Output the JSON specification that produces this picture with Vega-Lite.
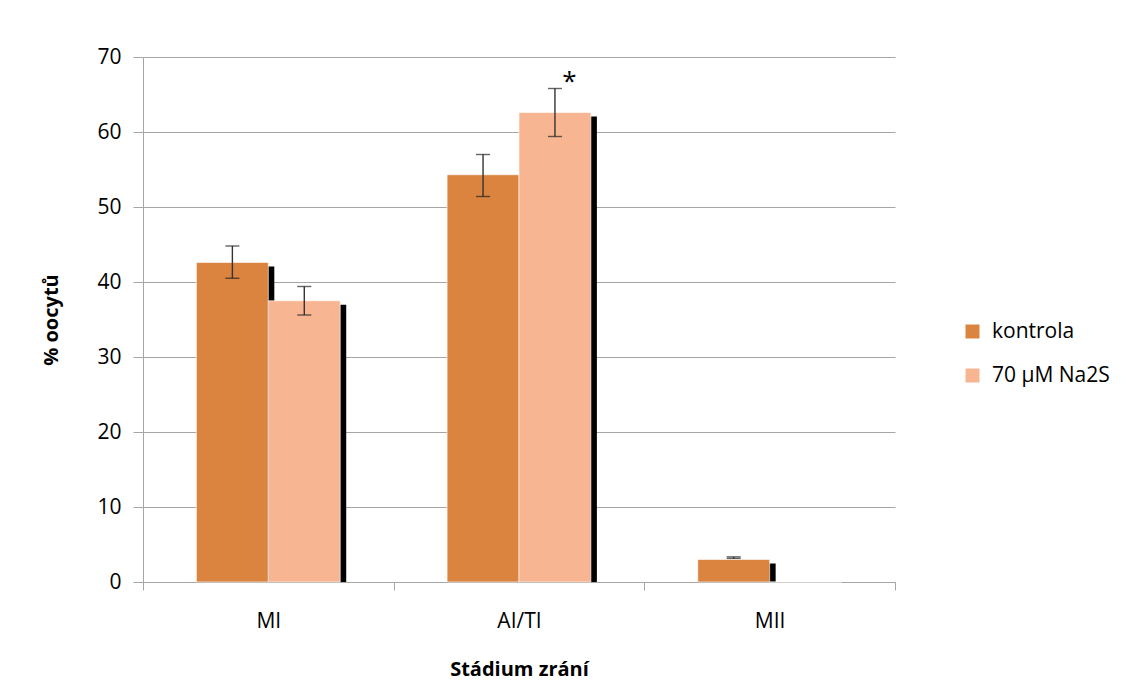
{
  "$schema": "https://vega.github.io/schema/vega-lite/v6.json",
  "width": 752,
  "height": 525,
  "autosize": {"type": "none"},
  "padding": {"left": 143, "top": 57, "right": 226, "bottom": 111},
  "background": "white",
  "config": {
    "view": {"stroke": null},
    "font": "Open Sans",
    "axis": {"labelColor": "black", "titleColor": "black", "domainColor": "#A6A6A6", "tickColor": "#A6A6A6", "gridColor": "#A6A6A6"}
  },
  "data": {
    "values": [
      {"stage": "MI", "group": "kontrola", "value": 42.6, "lo": 40.5, "hi": 44.8, "sig": ""},
      {"stage": "MI", "group": "70 µM Na2S", "value": 37.5, "lo": 35.6, "hi": 39.4, "sig": ""},
      {"stage": "AI/TI", "group": "kontrola", "value": 54.3, "lo": 51.4, "hi": 57.0, "sig": ""},
      {"stage": "AI/TI", "group": "70 µM Na2S", "value": 62.6, "lo": 59.4, "hi": 65.8, "sig": "*"},
      {"stage": "MII", "group": "kontrola", "value": 3.0, "lo": 3.15, "hi": 3.35, "sig": ""},
      {"stage": "MII", "group": "70 µM Na2S", "value": 0, "lo": 0, "hi": 0, "sig": ""}
    ]
  },
  "resolve": {"scale": {"xOffset": "independent"}},
  "encoding": {
    "x": {
      "field": "stage", "type": "nominal", "sort": ["MI", "AI/TI", "MII"],
      "scale": {"paddingInner": 0, "paddingOuter": 0},
      "axis": {"title": "Stádium zrání", "titleFontSize": 20, "titleFontWeight": "bold", "titlePadding": 28,
               "labelFontSize": 21, "labelAngle": 0, "labelPadding": 20, "tickSize": 8, "tickBand": "extent", "grid": false}
    },
    "xOffset": {
      "field": "group", "type": "nominal",
      "scale": {"domain": ["kontrola", "70 µM Na2S"], "paddingInner": 0, "paddingOuter": 0.743}
    }
  },
  "layer": [
    {
      "transform": [{"filter": "datum.value > 0"}],
      "mark": {"type": "bar", "color": "black", "yOffset": 4, "clip": true},
      "encoding": {
        "xOffset": {
          "field": "group", "type": "nominal",
          "scale": {"domain": ["kontrola", "70 µM Na2S"], "paddingInner": 0, "paddingOuter": 0.743, "align": 0.556}
        },
        "y": {"field": "value", "type": "quantitative", "scale": {"domain": [0, 70]}}
      }
    },
    {
      "mark": {"type": "bar", "stroke": "white", "strokeWidth": 1, "strokeOpacity": 0.6},
      "encoding": {
        "y": {"field": "value", "type": "quantitative",
              "axis": {"values": [0, 10, 20, 30, 40, 50, 60, 70], "title": "% oocytů", "titleFontSize": 20, "titleFontWeight": "bold", "titlePadding": 35,
                       "labelFontSize": 21, "labelPadding": 12, "tickSize": 10, "grid": true}},
        "color": {
          "field": "group", "type": "nominal",
          "scale": {"domain": ["kontrola", "70 µM Na2S"], "range": ["#DA843F", "#F8B592"]},
          "legend": {"title": null, "orient": "none", "legendX": 819, "legendY": 264, "symbolType": "square", "symbolSize": 196,
                     "symbolStrokeWidth": 0, "symbolOpacity": 1, "labelFontSize": 21, "labelColor": "black", "rowPadding": 22, "labelOffset": 9}
        }
      }
    },
    {
      "transform": [{"filter": "datum.hi > 0"}],
      "mark": {"type": "rule", "color": "#333333", "strokeWidth": 1.4},
      "encoding": {
        "y": {"field": "lo", "type": "quantitative"},
        "y2": {"field": "hi"}
      }
    },
    {
      "transform": [{"filter": "datum.hi > 0"}],
      "mark": {"type": "tick", "color": "#222222", "size": 14, "thickness": 1.4, "orient": "horizontal"},
      "encoding": {"y": {"field": "lo", "type": "quantitative"}}
    },
    {
      "transform": [{"filter": "datum.hi > 0"}],
      "mark": {"type": "tick", "color": "#222222", "size": 14, "thickness": 1.4, "orient": "horizontal"},
      "encoding": {"y": {"field": "hi", "type": "quantitative"}}
    },
    {
      "mark": {"type": "text", "fontSize": 26, "dy": -7, "color": "black", "font": "Open Sans"},
      "encoding": {
        "y": {"field": "hi", "type": "quantitative"},
        "text": {"field": "sig"}
      }
    }
  ]
}
